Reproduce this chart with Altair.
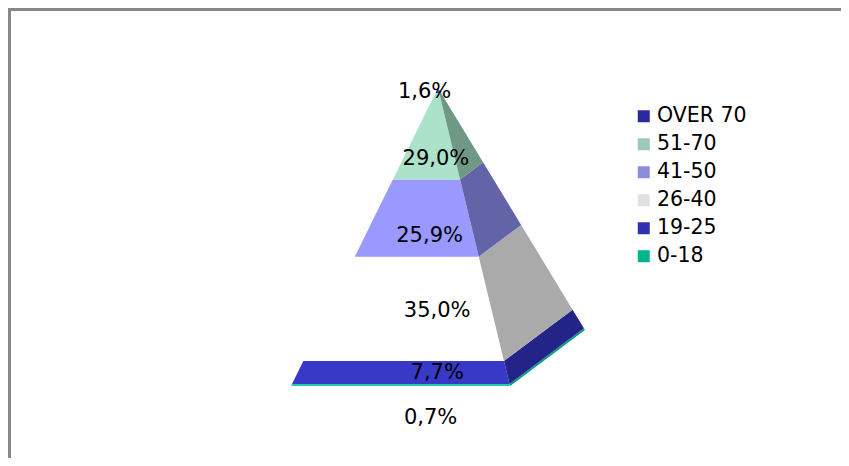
import altair as alt
import pandas as pd

# Chart values (top to bottom in the legend)
categories = ["OVER 70", "51-70", "41-50", "26-40", "19-25", "0-18"]
shares = [1.6, 29.0, 25.9, 35.0, 7.7, 0.7]
share_labels = ["1,6%", "29,0%", "25,9%", "35,0%", "7,7%", "0,7%"]
legend_colors = ["#2A2A9E", "#9AC9B5", "#8C8CDC", "#E1E1E1", "#3030B0", "#00B48C"]
front_colors = ["#2A2AB0", "#AAE3C9", "#9999FF", "#FFFFFF", "#3939C8", "#1FD0A8"]
side_colors = ["#1C1C80", "#6F9985", "#6363A8", "#AAAAAA", "#232388", "#00A080"]

# Label nudges in pixels from the centre of each band
label_dx = [-13, 4, 8, 27, 35, 30]
label_dy = [1, 23, 18, 2, 1, 33]

# Pyramid shape in data units: base width 100, height 100
APEX_X = 67.1
BACK_X = 134.2
BACK_Y = 18.8
FONT = "DejaVu Sans"


def front_left(p):
    return (APEX_X * p / 100, p)


def front_right(p):
    return (100 + (APEX_X - 100) * p / 100, p)


def back_right(p):
    return (BACK_X + (APEX_X - BACK_X) * p / 100, BACK_Y + (100 - BACK_Y) * p / 100)


def slices(poly, pid, fill):
    """Turn a convex polygon into rows of an area mark (y, x, x2)."""
    ys = sorted({v[1] for v in poly})
    rows = []
    n = len(poly)
    for y in ys:
        xs = []
        for i in range(n):
            (x0, y0), (x1, y1) = poly[i], poly[(i + 1) % n]
            if min(y0, y1) <= y <= max(y0, y1):
                if y0 == y1:
                    xs += [x0, x1]
                else:
                    xs.append(x0 + (x1 - x0) * (y - y0) / (y1 - y0))
        rows.append(dict(pid=pid, y=y, x=min(xs), x2=max(xs), fill=fill))
    return rows


rows = []
labels = []
cum = 0.0
for i in range(len(shares) - 1, -1, -1):
    lo, hi = cum, cum + shares[i]
    cum = hi
    rows += slices([front_left(lo), front_right(lo), front_right(hi), front_left(hi)], f"f{i}", front_colors[i])
    rows += slices([front_right(lo), back_right(lo), back_right(hi), front_right(hi)], f"s{i}", side_colors[i])
    mid = (lo + hi) / 2
    labels.append(dict(x=(front_left(mid)[0] + front_right(mid)[0]) / 2, y=mid, t=share_labels[i], i=i))

df = pd.DataFrame(rows)
W, H = 833, 450
x_scale = alt.Scale(domain=[-129.2, 251.1], range=[0, W], nice=False, zero=False)
y_scale = alt.Scale(domain=[-24.16, 126.85], range=[H, 0], nice=False, zero=False)
X = alt.X("x:Q", scale=x_scale, axis=None)
Y = alt.Y("y:Q", scale=y_scale, axis=None)

areas = alt.Chart(df).mark_area(orient="horizontal").encode(
    x=X, x2="x2:Q", y=Y, detail="pid:N", fill=alt.Fill("fill:N", scale=None)
)

layers = [areas]
for lab in labels:
    i = lab["i"]
    layers.append(
        alt.Chart(pd.DataFrame([lab]))
        .mark_text(font=FONT, fontSize=21, color="#000000", dx=label_dx[i], dy=label_dy[i])
        .encode(x=X, y=Y, text="t:N")
    )

legend = alt.Chart(pd.DataFrame({"c": categories})).mark_square(size=0).encode(
    color=alt.Color(
        "c:N",
        scale=alt.Scale(domain=categories, range=legend_colors),
        legend=alt.Legend(
            title=None, orient="none", legendX=625.5, legendY=98,
            symbolType="square", symbolSize=144, symbolStrokeWidth=0, symbolOpacity=1,
            labelFont=FONT, labelFontSize=20.5, labelColor="#000000", labelOffset=3,
            rowPadding=7, labelLimit=200,
        ),
    )
)
layers.append(legend)

frame = "#888888"
layers.append(alt.Chart(pd.DataFrame({"a": [0]})).mark_rule(color=frame, strokeWidth=3).encode(
    x=alt.value(1.5), y=alt.value(0), y2=alt.value(H)))
layers.append(alt.Chart(pd.DataFrame({"a": [0]})).mark_rule(color=frame, strokeWidth=3).encode(
    y=alt.value(1.5), x=alt.value(0), x2=alt.value(W)))

chart = alt.layer(*layers).properties(
    width=W, height=H, padding=0, background="#FFFFFF",
    autosize=alt.AutoSizeParams(type="none", contains="padding"),
).configure_view(stroke=None)
chart.save("out.html", embed_options={"renderer": "svg", "actions": False})
